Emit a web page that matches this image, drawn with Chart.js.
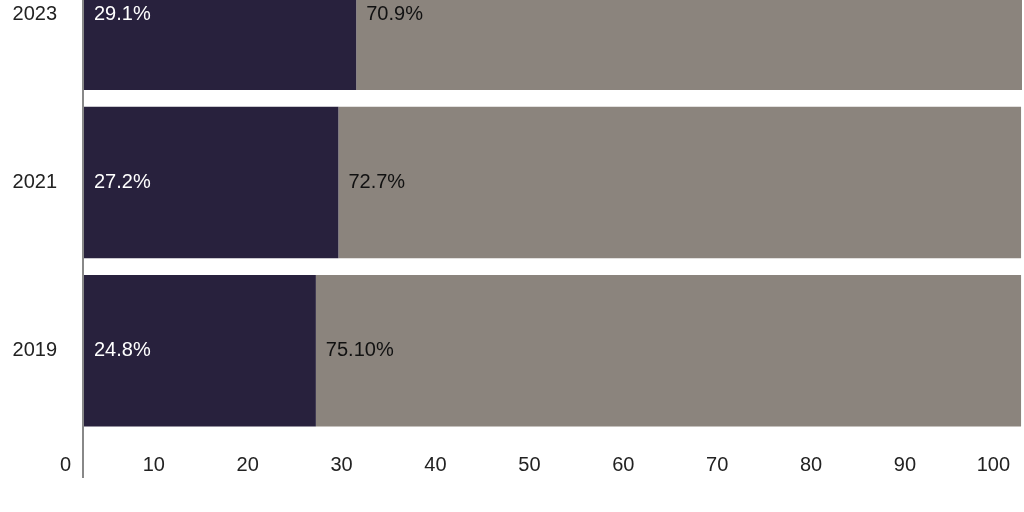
<!DOCTYPE html>
<html><head><meta charset="utf-8">
<script src="https://cdn.jsdelivr.net/npm/chart.js@4/dist/chart.umd.min.js"></script>
<style>html,body{margin:0;padding:0;overflow:hidden;background:#fff;width:1024px;height:512px}
#wrap{position:absolute;left:0;top:-100px;width:1024px;height:612px}</style>
</head><body><div id="wrap"><canvas id="c"></canvas></div>
<script>
const categories=['2023','2021','2019'];
const darkValues=[29.1,27.2,24.8];
const grayValues=[70.9,72.7,75.1];
const darkLabels=['29.1%','27.2%','24.8%'];
const grayLabels=['70.9%','72.7%','75.10%'];
const xTicks=[0,10,20,30,40,50,60,70,80,90,100];
const FONT='"Liberation Sans", Arial, sans-serif';
const labelPlugin={id:'lbl',afterDatasetsDraw(ch){
  const ctx=ch.ctx;ctx.save();ctx.font='20px '+FONT;ctx.textBaseline='middle';ctx.textAlign='left';
  [[0,darkLabels,'#ffffff'],[1,grayLabels,'#111111']].forEach(([di,labs,col])=>{
    ch.getDatasetMeta(di).data.forEach((b,i)=>{ctx.fillStyle=col;ctx.fillText(labs[i],b.base+10,b.y);});
  });
  const xs=ch.scales.x;ctx.textAlign='right';ctx.fillStyle='#222';
  xTicks.forEach(v=>{ctx.fillText(String(v),xs.getPixelForValue(v)-12,ch.chartArea.bottom+30);});
  ctx.restore();}};
new Chart(document.getElementById('c'),{type:'bar',
data:{labels:categories,datasets:[
 {data:darkValues,backgroundColor:'#28213d',categoryPercentage:0.9,barPercentage:1},
 {data:grayValues,backgroundColor:'#8b847d',categoryPercentage:0.9,barPercentage:1}]},
options:{indexAxis:'y',responsive:true,maintainAspectRatio:false,animation:false,
 layout:{padding:{left:0,right:2,top:0,bottom:34}},
 plugins:{legend:{display:false},tooltip:{enabled:false}},
 scales:{
  x:{stacked:true,min:0,max:100,afterBuildTicks(s){s.ticks=xTicks.map(v=>({value:v}));},
   border:{display:false},
   grid:{drawOnChartArea:false,tickLength:43,color:c=>c.index===0?'#888':'rgba(0,0,0,0)',lineWidth:2},
   ticks:{display:false}},
  y:{stacked:true,afterFit(s){s.width=83;},border:{display:true,color:'#888',width:2},grid:{display:false},
   ticks:{color:'#222',padding:18,font:{family:FONT,size:20}}}
 }},plugins:[labelPlugin]});
</script></body></html>
